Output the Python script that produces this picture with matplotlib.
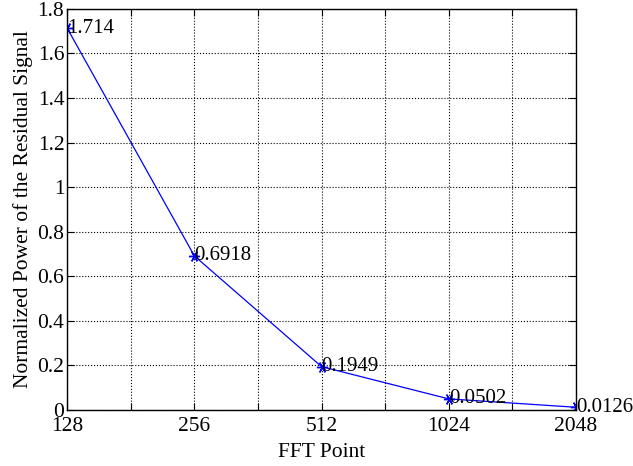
import matplotlib.pyplot as plt
import numpy as np

plt.rcParams['font.family'] = ['Liberation Serif', 'DejaVu Serif']

fft_points = ["128", "256", "512", "1024", "2048"]
residual_power = [1.714, 0.6918, 0.1949, 0.0502, 0.0126]
value_labels = ["1.714", "0.6918", "0.1949", "0.0502", "0.0126"]

x = np.arange(len(fft_points))
fs = 15.5

fig = plt.figure(figsize=(6.33, 4.66), dpi=100)
ax = fig.add_axes([0.106, 0.120, 0.804, 0.861])

# MATLAB-style asterisk marker
ax.plot(x, residual_power, color="blue", linewidth=0.9, marker=(6, 2, 90),
        markersize=8, markeredgewidth=1.0)
for xi, yi, lab in zip(x, residual_power, value_labels):
    ax.text(xi, yi, lab, ha="left", va="center", fontsize=15)

ax.set_xlim(0, len(fft_points) - 1)
ax.set_ylim(0, 1.8)
ax.set_xticks(np.arange(0, len(fft_points) - 0.5, 0.5))
ax.set_xticklabels([lab if i % 2 == 0 else "" for i, lab in
                    enumerate(np.repeat(fft_points, 2)[:-1])])
ax.set_yticks(np.arange(0, 1.81, 0.2))
ax.set_yticklabels(["0", "0.2", "0.4", "0.6", "0.8", "1", "1.2", "1.4", "1.6", "1.8"])

ax.grid(True, linestyle=":", color="black", linewidth=0.8)
ax.tick_params(direction="in", top=True, right=True, labelsize=fs, length=5, pad=2)
ax.tick_params(axis="x", pad=5)
for s in ax.spines.values():
    s.set_linewidth(1.0)

ax.set_xlabel("FFT Point", fontsize=fs, labelpad=5)
ax.set_ylabel("Normalized Power of the Residual Signal", fontsize=fs, labelpad=3)

fig.savefig("out.png", dpi=100)
